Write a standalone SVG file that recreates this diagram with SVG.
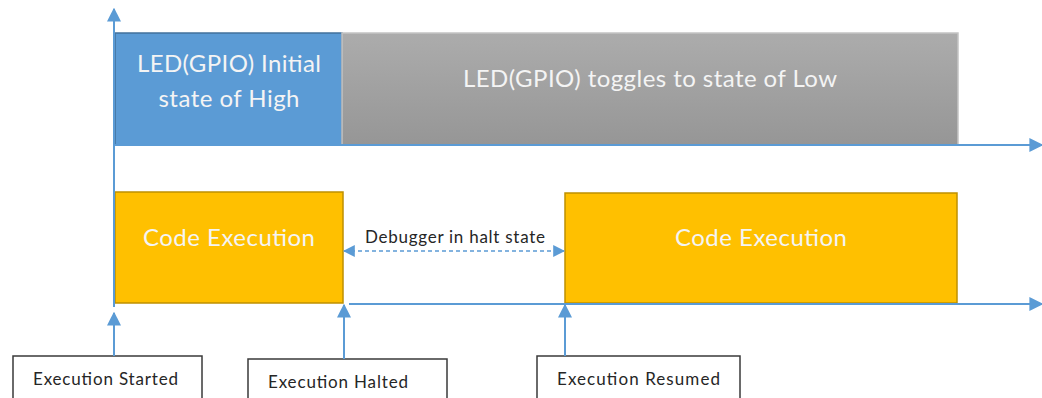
<svg xmlns="http://www.w3.org/2000/svg" width="1042" height="398" viewBox="0 0 1042 398">
  <style>
    .box-text { font-family: Lato, "Open Sans", sans-serif; font-size: 24px; fill: #F4F4F4; text-anchor: middle; }
    .note-text { font-family: Lato, "Open Sans", sans-serif; font-size: 17px; fill: #262626; }
    .label-text { font-family: Lato, "Open Sans", sans-serif; font-size: 17px; fill: #262626; }
    .axis { stroke: #5B9BD5; stroke-width: 2; fill: none; }
    .label-box { fill: #FFFFFF; stroke: #3A3A3A; stroke-width: 1.5; }
    .exec { fill: #FFC000; stroke: #BF9000; stroke-width: 1.5; }
  </style>
  <defs>
    <linearGradient id="grayFill" x1="0" y1="0" x2="0" y2="1">
      <stop offset="0" stop-color="#ACACAC"/>
      <stop offset="1" stop-color="#969696"/>
    </linearGradient>
    <marker id="head" viewBox="0 0 10 10" refX="9" refY="5" markerWidth="7" markerHeight="7.5" orient="auto" markerUnits="strokeWidth">
      <path d="M0,0 L10,5 L0,10 Z" fill="#5B9BD5"/>
    </marker>
    <marker id="headSmall" viewBox="0 0 10 10" refX="9" refY="5" markerWidth="8" markerHeight="8" orient="auto-start-reverse" markerUnits="strokeWidth">
      <path d="M0,0 L10,5 L0,10 Z" fill="#5B9BD5"/>
    </marker>
  </defs>

  <!-- LED state bars -->
  <g id="led-high">
    <rect x="115" y="33" width="227" height="112" fill="#5B9BD5" stroke="#41719C" stroke-width="1.5"/>
    <text class="box-text" x="229" y="72" textLength="184">LED(GPIO) Initial</text>
    <text class="box-text" x="229" y="107" textLength="141">state of High</text>
  </g>
  <g id="led-low">
    <rect x="342" y="33" width="616" height="112" fill="url(#grayFill)" stroke="#C4C4C4" stroke-width="1.5"/>
    <text class="box-text" x="650" y="87" textLength="374">LED(GPIO) toggles to state of Low</text>
  </g>

  <!-- Code execution bars -->
  <g id="exec-1">
    <rect class="exec" x="115" y="192" width="228" height="111"/>
    <text class="box-text" x="229" y="246" textLength="172">Code Execution</text>
  </g>
  <g id="exec-2">
    <rect class="exec" x="565" y="193" width="392" height="110"/>
    <text class="box-text" x="761" y="246" textLength="172">Code Execution</text>
  </g>

  <!-- Event labels -->
  <g id="started">
    <rect class="label-box" x="13" y="356" width="189" height="50"/>
    <text class="label-text" x="33" y="385" textLength="145">Execution Started</text>
  </g>
  <g id="halted">
    <rect class="label-box" x="248" y="359" width="199" height="50"/>
    <text class="label-text" x="268" y="388" textLength="140">Execution Halted</text>
  </g>
  <g id="resumed">
    <rect class="label-box" x="537" y="356" width="203" height="50"/>
    <text class="label-text" x="557" y="385" textLength="163">Execution Resumed</text>
  </g>

  <!-- Axes and connectors -->
  <g id="connectors">
    <line class="axis" x1="114" y1="307" x2="114" y2="9" marker-end="url(#head)"/>
    <line class="axis" x1="114" y1="145" x2="1042" y2="145" marker-end="url(#head)"/>
    <line class="axis" x1="349" y1="304" x2="1042" y2="304" marker-end="url(#head)"/>
    <line class="axis" x1="114" y1="356" x2="114" y2="313" marker-end="url(#head)"/>
    <line class="axis" x1="344" y1="359" x2="344" y2="305" marker-end="url(#head)"/>
    <line class="axis" x1="565" y1="356" x2="565" y2="305" marker-end="url(#head)"/>
    <line x1="344" y1="251" x2="564" y2="251" stroke="#5B9BD5" stroke-width="1.5" stroke-dasharray="4 3" marker-start="url(#headSmall)" marker-end="url(#headSmall)"/>
    <text class="note-text" x="365" y="243" textLength="180">Debugger in halt state</text>
  </g>
</svg>
